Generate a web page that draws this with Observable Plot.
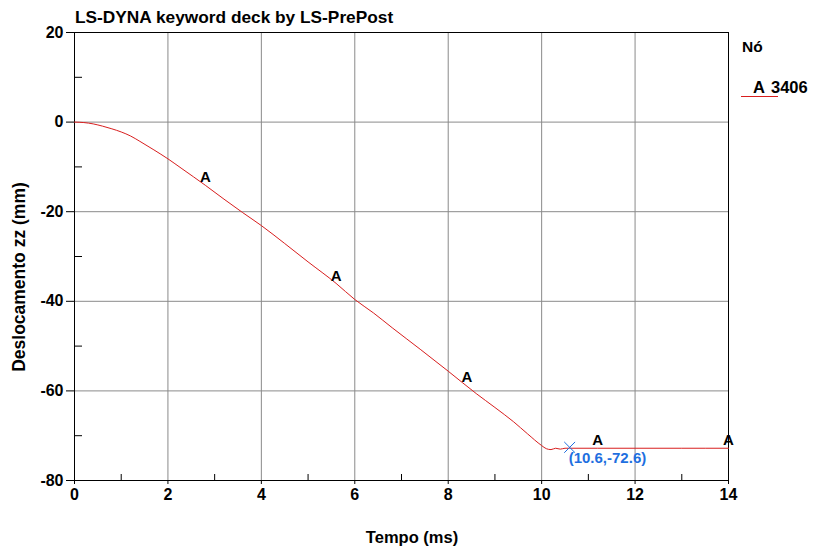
<!DOCTYPE html>
<html>
<head>
<meta charset="utf-8">
<script src="https://cdn.jsdelivr.net/npm/d3@7"></script>
<script src="https://cdn.jsdelivr.net/npm/@observablehq/plot@0.6"></script>
<style>
  html, body { margin: 0; padding: 0; background: white; }
  #wrap { position: relative; width: 821px; height: 548px; font-family: "Liberation Sans", Arial, sans-serif; }
  #wrap svg { position: absolute; left: 0; top: 0; }
  .ov { position: absolute; font-weight: bold; color: #000; white-space: nowrap; line-height: 1; }
</style>
</head>
<body>
<div id="wrap"></div>
<script>
// ---- data ----
const time = [0, 0.2, 0.4, 0.6, 0.8, 1.0, 1.2, 1.4, 1.7, 2.0, 2.3, 2.8, 3.2, 3.6, 4.0, 4.5, 5.0, 5.6, 6.0, 6.4, 6.8, 7.4, 8.0, 8.6, 9.0, 9.4, 9.7, 10.0, 10.1, 10.2, 10.3, 10.4, 10.5, 10.6, 11.2, 12, 13, 14];
const disp = [0, -0.1, -0.4, -0.9, -1.5, -2.2, -3.1, -4.3, -6.2, -8.2, -10.4, -14.1, -17.2, -20.2, -23.1, -27.1, -31.2, -36.0, -39.6, -42.6, -45.9, -50.7, -55.6, -60.6, -63.7, -66.9, -69.6, -72.2, -72.9, -73.1, -72.8, -73.0, -72.8, -72.8, -72.8, -72.8, -72.8, -72.8];
const markerTimes = [2.8, 5.6, 8.4, 11.2, 14.0];
const markerDisp = [-14.1, -36.1, -58.7, -72.8, -72.8];
const markerLetter = "A";
const probeTime = [10.6];
const probeDisp = [-72.6];
const probeLabel = ["(10.6,-72.6)"];
const xMajor = [0, 2, 4, 6, 8, 10, 12, 14];
const xMinor = [1, 3, 5, 7, 9, 11, 13];
const yMajor = [-80, -60, -40, -20, 0, 20];
const yMinor = [-70, -50, -30, -10, 10];
const titleText = "LS-DYNA keyword deck by LS-PrePost";
const xLabel = "Tempo (ms)";
const yLabel = "Deslocamento zz (mm)";
const legendTitle = "Nó";
const seriesName = "3406";

const curve = time.map((t, i) => ({t, d: disp[i]}));
const markers = markerTimes.map((t, i) => ({t, d: markerDisp[i]}));
const probe = probeTime.map((t, i) => ({t, d: probeDisp[i], label: probeLabel[i]}));

const W = 821, H = 548, mL = 74, mR = 93, mT = 32, mB = 68;
const fw = W - mL - mR, fh = H - mT - mB;
const gridColor = "#8a8a8a";
const red = "#d81e1e";
const blue = "#1f6fe0";

const chart = Plot.plot({
  width: W, height: H,
  marginLeft: mL, marginRight: mR, marginTop: mT, marginBottom: mB,
  style: {background: "white", fontFamily: "'Liberation Sans', Arial, sans-serif", overflow: "visible"},
  x: {domain: [0, 14]},
  y: {domain: [-80, 20]},
  marks: [
    Plot.gridX(xMajor.slice(1, -1), {stroke: gridColor, strokeOpacity: 1, strokeWidth: 1}),
    Plot.gridY(yMajor.slice(1, -1), {stroke: gridColor, strokeOpacity: 1, strokeWidth: 1}),
    Plot.tickX(xMinor, {x: d => d, stroke: "black", insetTop: fh - 6}),
    Plot.tickY(yMinor, {y: d => d, stroke: "black", insetRight: fw - 8}),
    Plot.frame({stroke: "black", strokeWidth: 1}),
    Plot.axisX(xMajor, {tickSize: 4, tickPadding: 4, tickFormat: d => String(d), fontSize: 16, fontWeight: "bold", fill: "black", stroke: "black", label: null}),
    Plot.axisY(yMajor, {tickSize: 8, tickPadding: 3, tickFormat: d => String(d), fontSize: 16, fontWeight: "bold", fill: "black", stroke: "black", label: null}),
    Plot.line(curve, {x: "t", y: "d", stroke: red, strokeWidth: 1, curve: "monotone-x"}),
    Plot.text(markers, {x: "t", y: "d", text: () => markerLetter, dy: -8, fontSize: 15, fontWeight: "bold", fill: "black"}),
    Plot.dot(probe, {x: "t", y: "d", symbol: "times", r: 5, stroke: blue, strokeWidth: 1}),
    Plot.text(probe, {x: "t", y: "d", text: "label", textAnchor: "start", dx: -1, dy: 11, fontSize: 15, fontWeight: "bold", fill: blue})
  ]
});

const wrap = document.getElementById("wrap");
wrap.appendChild(chart);

function ov(text, css) {
  const d = document.createElement("div");
  d.className = "ov";
  d.textContent = text;
  Object.assign(d.style, css);
  wrap.appendChild(d);
  return d;
}
ov(titleText, {left: "75px", top: "9px", fontSize: "17.3px"});
ov(xLabel, {left: "412px", top: "529px", fontSize: "16.5px", transform: "translateX(-50%)"});
ov(yLabel, {left: "20px", top: "277px", fontSize: "17.5px", transform: "translate(-50%,-50%) rotate(-90deg)"});
ov(legendTitle, {left: "742px", top: "39px", fontSize: "15.5px"});
ov(markerLetter, {left: "753px", top: "79px", fontSize: "16.5px"});
ov(seriesName, {left: "771px", top: "79px", fontSize: "16.5px"});
const ln = document.createElement("div");
Object.assign(ln.style, {position: "absolute", left: "741px", top: "96px", width: "37px", height: "1px", background: red});
wrap.appendChild(ln);
</script>
</body>
</html>
